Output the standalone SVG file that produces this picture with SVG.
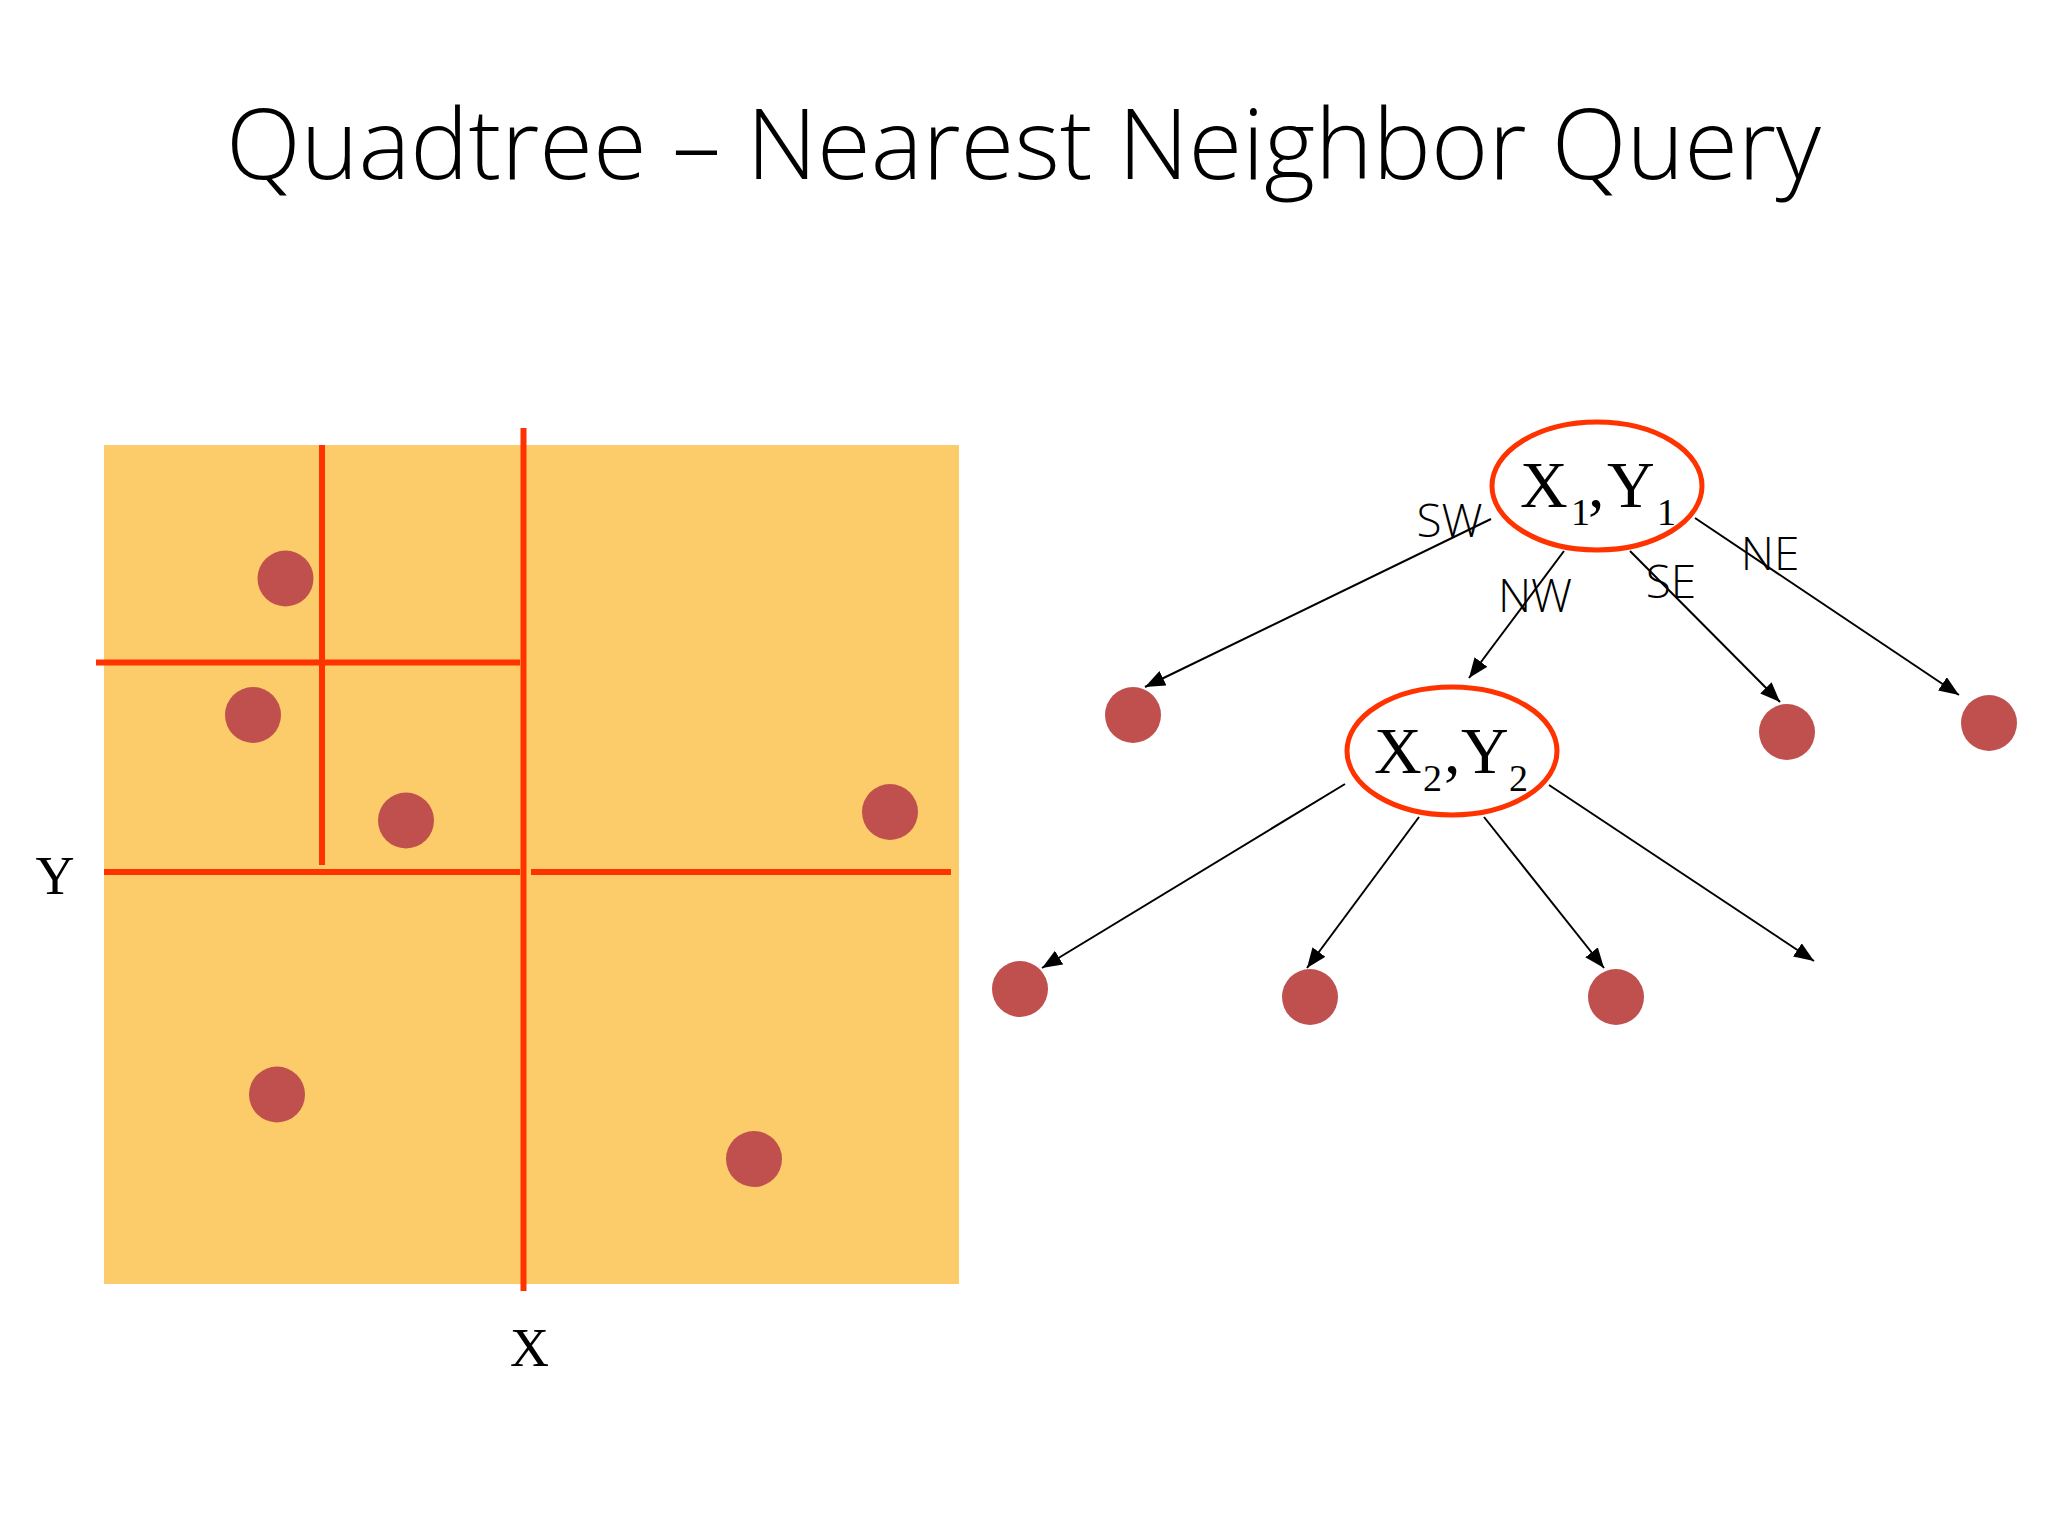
<svg xmlns="http://www.w3.org/2000/svg" width="2048" height="1536" viewBox="0 0 2048 1536">
<defs>
<style>
.title{font-family:"Open Sans","Liberation Sans",sans-serif;font-weight:300;font-size:98px;fill:#000}
.lbl{font-family:"Open Sans","Liberation Sans",sans-serif;font-weight:300;font-size:46px;fill:#000}
.ser{font-family:"Liberation Serif","Times New Roman",serif;fill:#000}
.split{stroke:#FF3300;stroke-width:6;fill:none}
.pt{fill:#C0504D}
.node{fill:#fff;stroke:#FF3300;stroke-width:5}
.edge{stroke:#000;stroke-width:2;fill:none;marker-end:url(#arr)}
.edge0{stroke:#000;stroke-width:2;fill:none}
</style>
<marker id="arr" markerUnits="userSpaceOnUse" markerWidth="22" markerHeight="16" refX="20" refY="8" orient="auto">
<path d="M0,0 L20,8 L0,16 Z" fill="#000"/>
</marker>
</defs>
<rect width="2048" height="1536" fill="#fff"/>
<text class="title" x="226" y="179" textLength="1595" lengthAdjust="spacingAndGlyphs">Quadtree – Nearest Neighbor Query</text>

<g id="space">
<rect x="104" y="445" width="855" height="839" fill="#FCCB6A"/>
<line class="split" x1="523.5" y1="428" x2="523.5" y2="1291"/>
<line class="split" x1="104" y1="872" x2="520" y2="872"/>
<line class="split" x1="531" y1="872" x2="951" y2="872"/>
<line class="split" x1="96" y1="662.5" x2="520" y2="662.5"/>
<line class="split" x1="322" y1="445" x2="322" y2="865"/>
<circle class="pt" cx="285.5" cy="578.5" r="28"/>
<circle class="pt" cx="253" cy="715" r="28"/>
<circle class="pt" cx="406" cy="820.5" r="28"/>
<circle class="pt" cx="890" cy="812" r="28"/>
<circle class="pt" cx="277" cy="1094.5" r="28"/>
<circle class="pt" cx="754" cy="1159" r="28"/>
<text class="ser" x="55" y="894" font-size="54" text-anchor="middle">Y</text>
<text class="ser" x="529.5" y="1366" font-size="54" text-anchor="middle">X</text>
</g>

<g id="connectors">
<line class="edge" x1="1491" y1="519" x2="1145" y2="687"/>
<line class="edge" x1="1564" y1="551" x2="1469" y2="678"/>
<line class="edge" x1="1630" y1="551" x2="1780" y2="702"/>
<line class="edge" x1="1695" y1="518" x2="1959" y2="695"/>
<line class="edge" x1="1345" y1="784" x2="1042" y2="968"/>
<line class="edge" x1="1419" y1="817" x2="1307" y2="968"/>
<line class="edge" x1="1484" y1="817" x2="1604" y2="968"/>
<line class="edge" x1="1549" y1="785" x2="1814" y2="961"/>
<text class="lbl" x="1449.5" y="537" text-anchor="middle">SW</text>
<text class="lbl" x="1535" y="612" text-anchor="middle">NW</text>
<text class="lbl" x="1671" y="598" text-anchor="middle">SE</text>
<text class="lbl" x="1770" y="570" text-anchor="middle">NE</text>
</g>

<g id="n1">
<ellipse class="node" cx="1597" cy="486" rx="105" ry="64"/>
<text class="ser" font-size="66"><tspan x="1520" y="507">X</tspan><tspan x="1571" y="525" font-size="38">1</tspan><tspan x="1588" y="507">,</tspan><tspan x="1607" y="507">Y</tspan><tspan x="1657" y="525" font-size="38">1</tspan></text>
</g>
<g id="n2">
<ellipse class="node" cx="1452" cy="751" rx="105" ry="64"/>
<text class="ser" font-size="66"><tspan x="1374" y="773">X</tspan><tspan x="1423" y="791" font-size="38">2</tspan><tspan x="1444" y="773">,</tspan><tspan x="1461" y="773">Y</tspan><tspan x="1509" y="791" font-size="38">2</tspan></text>
</g>
<g id="l1"><circle class="pt" cx="1133" cy="715" r="28"/></g>
<g id="l2"><circle class="pt" cx="1787" cy="732" r="28"/></g>
<g id="l3"><circle class="pt" cx="1989" cy="723" r="28"/></g>
<g id="l4"><circle class="pt" cx="1020" cy="989" r="28"/></g>
<g id="l5"><circle class="pt" cx="1310" cy="997" r="28"/></g>
<g id="l6"><circle class="pt" cx="1616" cy="997" r="28"/></g>
</svg>
